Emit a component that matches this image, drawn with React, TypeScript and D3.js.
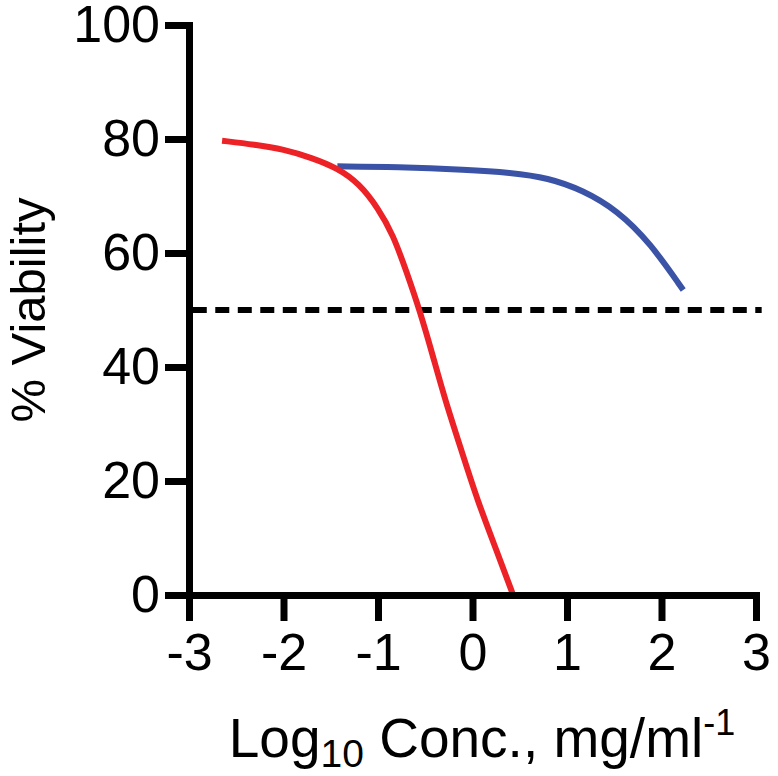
import React, { useEffect, useRef } from 'react';
import * as d3 from 'd3';

// ---- data ----
const xTickValues = [-3, -2, -1, 0, 1, 2, 3];
const yTickValues = [0, 20, 40, 60, 80, 100];

// red fitted curve (log10 conc, % viability)
const redX = [-2.65, -2.3, -2.0, -1.7, -1.43, -1.2, -1.0, -0.84, -0.7, -0.556, -0.42, -0.29, -0.1, 0.05, 0.25, 0.43];
const redY = [79.7, 79.0, 78.2, 76.7, 74.9, 72.2, 67.9, 63.2, 56.8, 49.8, 42.0, 34.2, 24.5, 16.7, 8.0, 0];

// blue fitted curve
const blueX = [-1.43, -0.8, -0.06, 0.4, 0.8, 1.17, 1.53, 1.88, 2.23];
const blueY = [75.2, 75.1, 74.6, 74.1, 73.2, 71.0, 67.5, 61.8, 53.5];

// 50% reference line
const thresholdY = 50;
const thresholdX = [-2.96, 3.06];

const FONT = "'Liberation Sans', Arial, Helvetica, sans-serif";

export default function App() {
  const W = 778;
  const H = 776;
  const x = d3.scaleLinear().domain([-3, 3]).range([189, 756]);
  const y = d3.scaleLinear().domain([0, 100]).range([595, 25]);

  const xAxisRef = useRef<SVGGElement>(null);
  const yAxisRef = useRef<SVGGElement>(null);

  useEffect(() => {
    const xa = d3
      .axisBottom(x)
      .tickValues(xTickValues)
      .tickSize(26)
      .tickSizeOuter(0)
      .tickPadding(12)
      .tickFormat((d) => String(d));
    const ya = d3
      .axisLeft(y)
      .tickValues(yTickValues)
      .tickSize(24)
      .tickSizeOuter(0)
      .tickPadding(5)
      .tickFormat((d) => String(d));

    const gx = d3.select(xAxisRef.current!);
    gx.call(xa as any);
    const gy = d3.select(yAxisRef.current!);
    gy.call(ya as any);

    [gx, gy].forEach((g) => {
      g.attr('font-family', FONT).attr('font-size', 52);
      g.select('.domain')
        .attr('stroke', '#000')
        .attr('stroke-width', 7)
        .attr('stroke-linecap', 'square');
      g.selectAll('.tick line').attr('stroke', '#000').attr('stroke-width', 7);
      g.selectAll('.tick text').attr('fill', '#000');
    });
  }, []);

  const line = d3
    .line<[number, number]>()
    .x((d) => x(d[0]))
    .y((d) => y(d[1]))
    .curve(d3.curveBasis);

  const redPts = redX.map((v, i) => [v, redY[i]] as [number, number]);
  const bluePts = blueX.map((v, i) => [v, blueY[i]] as [number, number]);

  return (
    <svg
      width={W}
      height={H}
      style={{ position: 'absolute', left: 0, top: 0, background: '#fff' }}
    >
      <rect x={0} y={0} width={W} height={H} fill="#fff" />
      <line
        x1={x(thresholdX[0])}
        x2={x(thresholdX[1])}
        y1={y(thresholdY)}
        y2={y(thresholdY)}
        stroke="#000"
        strokeWidth={6}
        strokeDasharray="14 8.5"
      />
      <path d={line(bluePts) || ''} fill="none" stroke="#3a53a6" strokeWidth={6} />
      <path d={line(redPts) || ''} fill="none" stroke="#ec2227" strokeWidth={6} />
      <g ref={xAxisRef} transform={`translate(0,${y(0)})`} />
      <g ref={yAxisRef} transform={`translate(${x(-3)},0)`} />
      <text
        transform={`translate(45,310) rotate(-90)`}
        textAnchor="middle"
        fontFamily={FONT}
        fontSize={49}
        fill="#000"
      >
        % Viability
      </text>
      <text x={482} y={757} textAnchor="middle" fontFamily={FONT} fontSize={55} fill="#000">
        Log
        <tspan fontSize={39} dy={10}>10</tspan>
        <tspan dy={-10}> Conc., mg/ml</tspan>
        <tspan fontSize={36} dy={-22}>-1</tspan>
      </text>
    </svg>
  );
}
